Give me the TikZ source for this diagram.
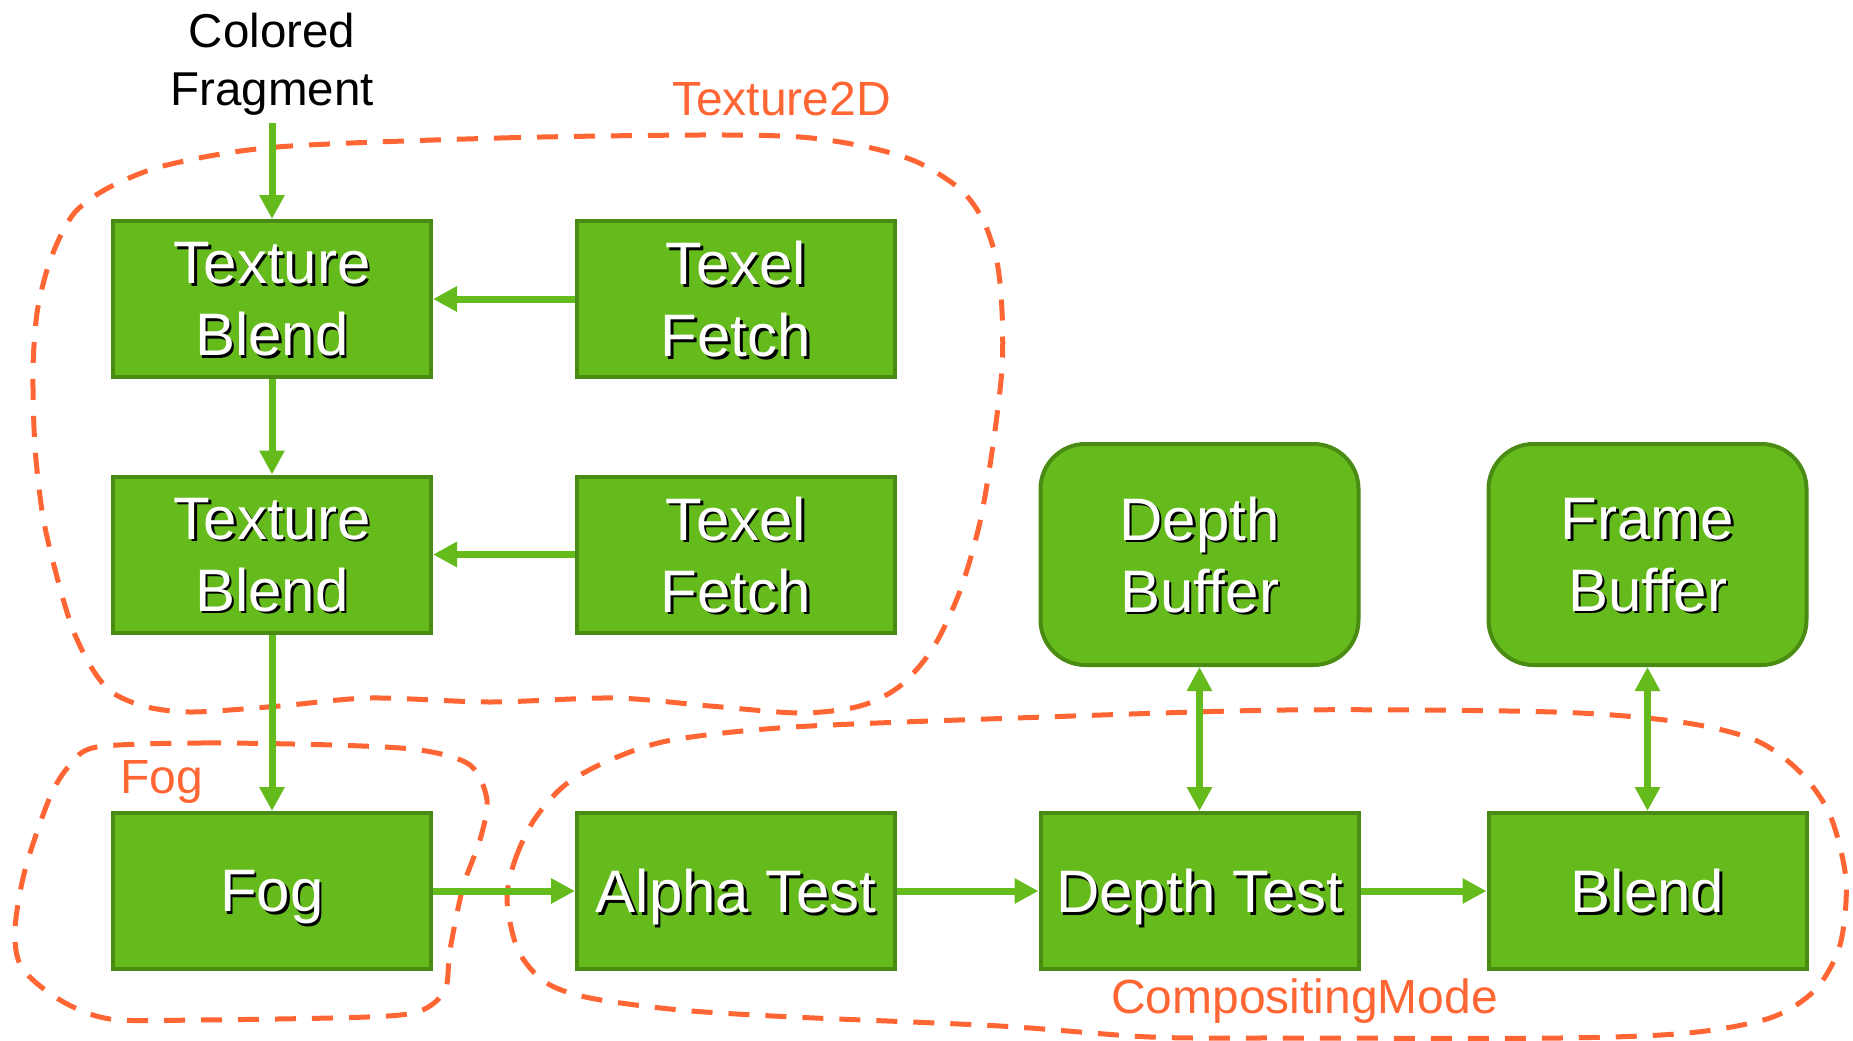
\documentclass[tikz,border=0pt]{standalone}
\usepackage{fontspec}
\setmainfont{Liberation Sans}
\usetikzlibrary{arrows.meta}

\definecolor{boxfill}{HTML}{65BB1C}
\definecolor{boxline}{HTML}{4A8B13}
\definecolor{flow}{HTML}{65BB1C}
\definecolor{groupline}{HTML}{FF6633}

% two centred lines; the baseline of the box is that of the second line
\newcommand\twoline[2]{\vbox{\halign{\hfil##\hfil\cr#1\cr#2\cr}}}
% white lettering with a small black drop shadow
\newcommand\shadowed[1]{\leavevmode\rlap{\kern2.5pt\raisebox{-2.5pt}{\color{black}#1}}{\color{white}#1}}

\begin{document}
\begin{tikzpicture}[x=1pt,y=-1pt,
  stage/.style={draw=boxline, line width=4pt, fill=boxfill,
    minimum width=318pt, minimum height=156pt, inner sep=0pt,
    text depth=0pt, font=\fontsize{60}{72}\selectfont},
  buffer/.style={stage, minimum height=221pt, rounded corners=45pt},
  flowarrow/.style={draw=flow, line width=7pt, -{Triangle[length=24pt,width=24pt]}},
  twoway/.style={draw=flow, line width=7pt,
    {Triangle[length=24pt,width=24pt]}-{Triangle[length=24pt,width=24pt]}},
  group/.style={draw=groupline, line width=5pt, dash pattern=on 21pt off 16pt},
  grouplabel/.style={text=groupline, font=\fontsize{48}{57}\selectfont,
    inner sep=0pt, anchor=base west}
]
\useasboundingbox (0,0) rectangle (1853,1041);
\fill[white] (0,0) rectangle (1853,1041);

% dashed groupings
\draw[group] plot[smooth cycle] coordinates {
  (277,147) (500,138) (700,135) (800,137) (867,147) (917,162) (960,189)
  (983,220) (997,262) (1002,311) (1002,369) (993,445) (980,522) (960,591)
  (933,648) (900,686) (860,706) (800,713) (710,706) (614,698) (490,702)
  (370,698) (280,706) (193,712) (147,707) (113,693) (93,670) (73,630)
  (57,577) (43,517) (35,447) (33,370) (37,313) (47,270) (60,237) (77,210)
  (110,187) (167,165)};
\draw[group] plot[smooth cycle] coordinates {
  (97,747) (200,743) (333,745) (420,750) (470,765) (487,800) (480,840)
  (463,887) (450,950) (445,990) (420,1011) (367,1017) (200,1020) (110,1019)
  (60,1000) (22,968) (15,930) (25,870) (50,797) (70,765)};
\draw[group] plot[smooth cycle] coordinates {
  (507,900) (515,860) (534,820) (565,785) (610,760) (672,740) (793,727)
  (1016,718) (1285,710) (1554,712) (1680,722) (1755,740) (1800,772)
  (1830,815) (1846,880) (1840,945) (1815,990) (1770,1018) (1688,1033)
  (1560,1038) (1285,1038) (1150,1037) (1000,1026) (793,1017) (680,1010)
  (590,998) (545,982) (518,950)};

\node[grouplabel] (lbltex) at (672,115) {Texture2D};
\node[grouplabel] (lblfog) at (120,793) {Fog};
\node[grouplabel] (lblcomp) at (1111,1013) {CompositingMode};

% pipeline stages
\node[anchor=base, font=\fontsize{47.5}{58}\selectfont, text depth=10pt, inner sep=8pt]
  (frag) at (272,105) {\twoline{Colored}{Fragment}};
\node[stage] (tb1) at (272,299) {\shadowed{\twoline{Texture}{Blend}}};
\node[stage] (tf1) at (736,299) {\shadowed{\twoline{Texel}{Fetch}}};
\node[stage] (tb2) at (272,554.5) {\shadowed{\twoline{Texture}{Blend}}};
\node[stage] (tf2) at (736,554.5) {\shadowed{\twoline{Texel}{Fetch}}};
\node[stage] (fog) at (272,891) {\shadowed{Fog}};
\node[stage] (alpha) at (736,891) {\shadowed{Alpha Test}};
\node[stage] (dtest) at (1199.5,891) {\shadowed{Depth Test}};
\node[stage] (blend) at (1647.5,891) {\shadowed{Blend}};
\node[buffer] (dbuf) at (1199.5,554.5) {\shadowed{\twoline{Depth}{Buffer}}};
\node[buffer] (fbuf) at (1647.5,554.5) {\shadowed{\twoline{Frame}{Buffer}}};

% data flow
\draw[flowarrow] (frag.south) -- (tb1.north);
\draw[flowarrow] (tf1.west) -- (tb1.east);
\draw[flowarrow] (tb1.south) -- (tb2.north);
\draw[flowarrow] (tf2.west) -- (tb2.east);
\draw[flowarrow] (tb2.south) -- (fog.north);
\draw[flowarrow] (fog.east) -- (alpha.west);
\draw[flowarrow] (alpha.east) -- (dtest.west);
\draw[flowarrow] (dtest.east) -- (blend.west);
\draw[twoway] (dtest.north) -- (dbuf.south);
\draw[twoway] (blend.north) -- (fbuf.south);
\end{tikzpicture}
\end{document}
